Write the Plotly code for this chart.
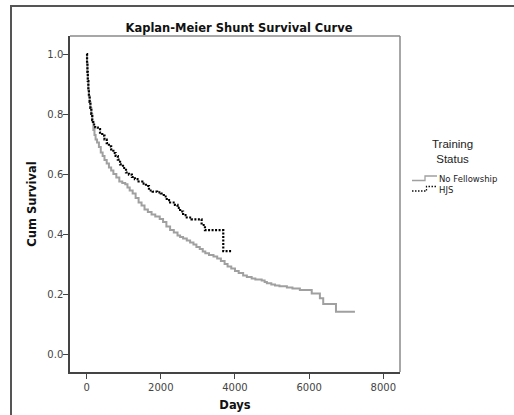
import plotly.graph_objects as go

# ---- data ----
nofel_days = [0, 10, 20, 30, 45, 60, 80, 100, 125, 150, 180, 210, 240, 280, 330, 380, 430, 480,
              540, 600, 660, 720, 800, 880, 960, 1040, 1100, 1160, 1240, 1320, 1400, 1480, 1560,
              1650, 1750, 1850, 1970, 2060, 2150, 2250, 2350, 2450, 2520, 2600, 2700, 2790, 2880,
              2960, 3050, 3130, 3200, 3300, 3420, 3520, 3620, 3720, 3800, 3900, 4000, 4100, 4220,
              4320, 4450, 4550, 4720, 4800, 4860, 4980, 5080, 5200, 5400, 5550, 5750, 6070, 6290,
              6380, 6724, 7236]
nofel_surv = [1.0, 0.97, 0.94, 0.91, 0.88, 0.86, 0.84, 0.82, 0.80, 0.775, 0.747, 0.73, 0.715, 0.705,
              0.69, 0.672, 0.66, 0.647, 0.635, 0.622, 0.612, 0.60, 0.588, 0.575, 0.57, 0.566, 0.555,
              0.545, 0.535, 0.52, 0.505, 0.495, 0.482, 0.473, 0.465, 0.458, 0.45, 0.44, 0.425, 0.413,
              0.405, 0.395, 0.39, 0.385, 0.378, 0.372, 0.365, 0.357, 0.35, 0.342, 0.336, 0.33, 0.325,
              0.318, 0.31, 0.30, 0.292, 0.285, 0.277, 0.27, 0.262, 0.257, 0.252, 0.248, 0.245, 0.24,
              0.236, 0.232, 0.228, 0.226, 0.222, 0.218, 0.213, 0.202, 0.186, 0.167, 0.141, 0.141]

hjs_days = [0, 10, 20, 30, 45, 60, 80, 100, 125, 150, 175, 230, 300, 360, 420, 480, 540, 600, 660,
            720, 780, 840, 900, 980, 1060, 1140, 1220, 1300, 1400, 1500, 1600, 1680, 1780, 1900,
            2000, 2080, 2160, 2250, 2380, 2450, 2520, 2600, 2700, 2830, 3100, 3190, 3684, 3911]
hjs_surv = [1.0, 0.97, 0.94, 0.91, 0.88, 0.86, 0.84, 0.82, 0.80, 0.78, 0.765, 0.755, 0.75, 0.738,
            0.728, 0.715, 0.703, 0.692, 0.682, 0.67, 0.66, 0.648, 0.632, 0.62, 0.605, 0.598, 0.59,
            0.583, 0.575, 0.568, 0.56, 0.545, 0.541, 0.539, 0.535, 0.525, 0.513, 0.505, 0.497,
            0.487, 0.475, 0.463, 0.455, 0.449, 0.43, 0.413, 0.343, 0.343]

x_ticks = [0, 2000, 4000, 6000, 8000]
y_ticks = [0.0, 0.2, 0.4, 0.6, 0.8, 1.0]
y_ticklabels = ["0.0", "0.2", "0.4", "0.6", "0.8", "1.0"]
series_names = ["No Fellowship", "HJS"]

# ---- geometry helpers (pixel -> paper) ----
W, H = 514, 415
ML, MR, MT, MB = 70, 114, 36, 43
PW, PH = W - ML - MR, H - MT - MB


def px(x):
    return (x - ML) / PW


def py(y):
    return (H - MB - y) / PH


FONT = "DejaVu Sans"
GRAY = "#a0a0a0"

fig = go.Figure()
fig.add_trace(go.Scatter(x=nofel_days, y=nofel_surv, mode="lines", name=series_names[0],
                         line=dict(color=GRAY, width=2, shape="hv"), showlegend=False))
fig.add_trace(go.Scatter(x=hjs_days, y=hjs_surv, mode="lines", name=series_names[1],
                         line=dict(color="#000000", width=2.2, shape="hv", dash="2px,1.5px"),
                         showlegend=False))

shapes = []
# outer frame
shapes.append(dict(type="rect", xref="paper", yref="paper", x0=px(11), x1=px(530),
                   y0=py(430), y1=py(6), line=dict(color="#555555", width=2)))
# top and right plot borders (gray)
shapes.append(dict(type="line", xref="paper", yref="paper", x0=0, x1=1, y0=1, y1=1,
                   line=dict(color="#8a8a8a", width=1.5)))
shapes.append(dict(type="line", xref="paper", yref="paper", x0=1, x1=1, y0=0, y1=1,
                   line=dict(color="#8a8a8a", width=1.5)))
# legend icons
shapes.append(dict(type="path", xref="paper", yref="paper",
                   path=f"M {px(412)},{py(180.5)} H {px(425)} V {py(176)} H {px(437)}",
                   line=dict(color=GRAY, width=1.3)))
shapes.append(dict(type="path", xref="paper", yref="paper",
                   path=f"M {px(412)},{py(191)} H {px(426.5)} V {py(186.5)} H {px(437)}",
                   line=dict(color="#111111", width=1.3, dash="1.5px,1.5px")))

annotations = [
    dict(text="Training<br>Status", xref="paper", yref="paper", x=px(452.5), y=py(151),
         showarrow=False, xanchor="center", yanchor="middle", align="center",
         font=dict(family="Liberation Sans", size=11.5, color="#222")),
    dict(text=series_names[0] + "<br>" + series_names[1], xref="paper", yref="paper",
         x=px(437.5), y=py(184.3), showarrow=False, xanchor="left", yanchor="middle",
         align="left", font=dict(family=FONT, size=8.5, color="#222")),
]

fig.update_layout(
    width=W, height=H,
    margin=dict(l=ML, r=MR, t=MT, b=MB),
    paper_bgcolor="white", plot_bgcolor="white",
    showlegend=False,
    title=dict(text="<b>Kaplan-Meier Shunt Survival Curve</b>", xref="paper", x=px(239),
               xanchor="center", yref="container", y=1 - 28 / H, yanchor="middle",
               font=dict(family=FONT, size=11.5, color="#111")),
    xaxis=dict(range=[-450, 8451], tickvals=x_ticks, ticks="outside", ticklen=5,
               tickcolor="#444", tickwidth=1, showgrid=False, zeroline=False,
               showline=True, linecolor="#444", linewidth=1.5,
               automargin=False,
               tickfont=dict(family=FONT, size=10, color="#444"),
               title=dict(text="<b>Days</b>", standoff=9,
                          font=dict(family=FONT, size=11.5, color="#111"))),
    yaxis=dict(range=[-0.06, 1.06], tickvals=y_ticks, ticktext=y_ticklabels, ticks="outside",
               ticklen=5, tickcolor="#444", tickwidth=1, showgrid=False, zeroline=False,
               showline=True, linecolor="#444", linewidth=1.5, ticklabelstandoff=-2,
               automargin=False,
               tickfont=dict(family=FONT, size=10, color="#444"),
               title=dict(text="<b>Cum Survival</b>", standoff=8,
                          font=dict(family=FONT, size=11.5, color="#111"))),
    shapes=shapes,
    annotations=annotations,
)

fig.write_html("out.html")
